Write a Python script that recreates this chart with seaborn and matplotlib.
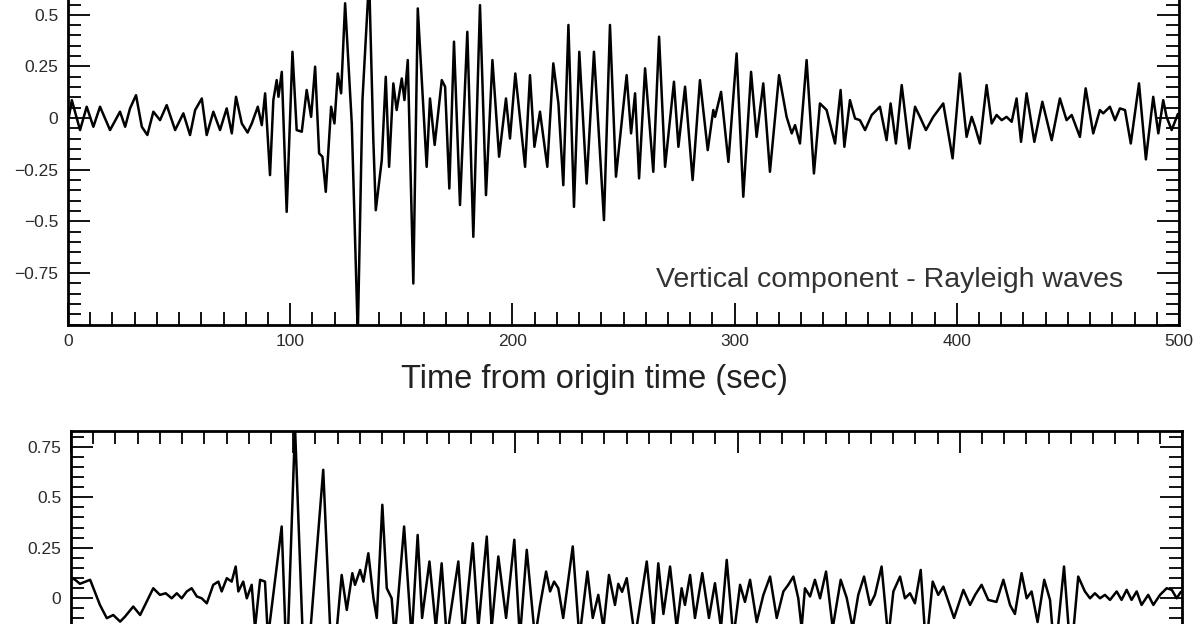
import pandas as pd
import seaborn as sns
import matplotlib.pyplot as plt
from matplotlib.ticker import MultipleLocator

# vertical component trace (time in s, amplitude) at the peaks/troughs
top_time = [0.3, 1.7, 5.4, 8.4, 11.4, 14.4, 18.9, 23.4, 25.7, 27.9, 30.6, 33.2, 35.7, 38.4, 41.4,
            44.4, 48.2, 51.9, 54.9, 57.2, 60.2, 62.4, 65.4, 68.4, 71.4, 73.7, 75.6, 78.2, 80.8,
            82.7, 85.4, 87.2, 88.7, 90.9, 92.4, 93.9, 94.7, 96.2, 98.4, 101.0, 102.9, 105.2,
            107.4, 109.4, 111.2, 113.0, 114.5, 116.0, 118.4, 119.9, 121.4, 122.9, 124.7, 127.7,
            130.4, 132.5, 135.5, 137.4, 138.5, 141.2, 143.0, 144.5, 146.4, 147.9, 150.2, 151.4,
            152.9, 155.4, 157.4, 161.4, 162.9, 165.0, 168.2, 169.7, 171.6, 173.7, 176.4, 179.7,
            182.4, 185.4, 188.1, 191.0, 194.0, 197.1, 198.9, 201.3, 205.7, 207.9, 209.9, 212.4,
            215.7, 218.4, 220.7, 222.9, 225.2, 227.7, 230.1, 233.4, 236.7, 241.2, 243.9, 246.6,
            251.4, 253.4, 255.2, 257.0, 259.7, 263.4, 266.0, 268.7, 272.7, 274.7, 277.7, 281.1,
            284.4, 287.9, 290.4, 291.2, 293.9, 297.2, 300.9, 303.9, 307.4, 309.9, 312.9, 315.9,
            320.0, 323.4, 325.7, 327.2, 329.4, 332.4, 335.7, 338.4, 341.4, 345.2, 347.7, 349.4,
            351.9, 354.2, 356.4, 358.7, 361.7, 365.4, 368.4, 370.2, 372.6, 375.2, 378.6, 381.2,
            383.4, 386.1, 389.4, 393.9, 398.1, 401.4, 404.4, 406.7, 408.2, 410.4, 413.4, 415.7,
            417.9, 420.2, 422.4, 424.7, 426.9, 428.9, 431.4, 434.9, 438.5, 442.7, 446.4, 449.4,
            451.7, 455.4, 458.0, 461.4, 464.4, 465.9, 468.9, 471.2, 473.4, 475.7, 478.3, 482.0,
            485.1, 488.4, 490.7, 492.9, 494.4, 496.7, 499.5]
top_amp = [0.0, 0.087, -0.058, 0.055, -0.042, 0.055, -0.058, 0.031, -0.042, 0.047, 0.111, -0.042,
           -0.082, 0.031, -0.010, 0.063, -0.058, 0.023, -0.082, 0.039, 0.095, -0.082, 0.031,
           -0.058, 0.047, -0.074, 0.103, -0.026, -0.070, -0.026, 0.055, -0.034, 0.120, -0.276,
           0.087, 0.184, 0.103, 0.224, -0.454, 0.321, -0.058, -0.066, 0.136, 0.006, 0.249,
           -0.171, -0.187, -0.357, 0.055, -0.026, 0.216, 0.120, 0.556, -0.026, -1.05, 0.087,
           0.68, -0.107, -0.446, -0.203, 0.200, -0.236, 0.168, 0.039, 0.192, 0.087, 0.281,
           -0.801, 0.531, -0.236, 0.095, -0.130, 0.184, 0.152, -0.341, 0.370, -0.421, 0.418,
           -0.575, 0.547, -0.373, 0.281, -0.187, 0.095, -0.099, 0.216, -0.236, 0.208, -0.139,
           0.031, -0.236, 0.265, 0.071, -0.325, 0.451, -0.430, 0.321, -0.317, 0.321, -0.494,
           0.451, -0.284, 0.208, -0.074, 0.120, -0.292, 0.241, -0.260, 0.394, -0.236, 0.176,
           -0.139, 0.152, -0.300, 0.184, -0.155, 0.039, 0.006, 0.127, -0.212, 0.313, -0.381,
           0.224, -0.091, 0.168, -0.260, 0.208, 0.006, -0.074, -0.034, -0.123, 0.281, -0.268,
           0.071, 0.039, -0.123, 0.136, -0.139, 0.087, -0.002, -0.010, -0.058, 0.015, 0.055,
           -0.107, 0.071, -0.123, 0.160, -0.147, 0.055, 0.006, -0.058, 0.006, 0.071, -0.195,
           0.216, -0.091, 0.006, -0.042, -0.123, 0.160, -0.026, 0.015, -0.010, 0.006, -0.018,
           0.095, -0.115, 0.120, -0.115, 0.079, -0.107, 0.095, -0.010, 0.015, -0.091, 0.144,
           -0.074, 0.039, 0.023, 0.055, -0.010, 0.047, 0.039, -0.123, 0.168, -0.200, 0.103,
           -0.074, 0.087, 0.006, -0.058, 0.020]

# second trace (only its upper part is visible)
bottom_time = [0.5, 1.0, 4.0, 8.6, 13.0, 16.1, 19.0, 22.1, 24.3, 28.0, 31.1, 37.0, 40.0, 42.6,
               45.3, 47.6, 49.8, 52.1, 54.3, 56.6, 58.8, 61.1, 64.0, 66.3, 67.8, 70.1, 72.3,
               74.1, 75.3, 77.5, 79.1, 81.3, 82.8, 85.1, 87.3, 88.6, 94.8, 97.1, 100.8, 105.3,
               113.5, 117.6, 121.8, 124.1, 126.6, 127.8, 130.1, 131.6, 133.8, 136.1, 137.6,
               140.1, 142.1, 144.3, 145.7, 149.9, 153.3, 156.0, 158.0, 161.3, 164.2, 166.8,
               169.1, 174.3, 176.6, 180.8, 183.3, 187.1, 189.3, 192.3, 195.8, 199.5, 202.0,
               205.1, 208.8, 211.1, 213.8, 215.6, 217.4, 219.3, 221.5, 225.8, 228.8, 232.4,
               234.8, 237.3, 239.6, 242.1, 244.8, 246.3, 248.0, 250.1, 253.8, 259.1, 262.1,
               264.3, 266.6, 269.6, 272.6, 274.8, 276.3, 278.6, 280.8, 284.1, 287.1, 289.8,
               292.5, 295.1, 298.1, 301.1, 303.3, 305.6, 308.6, 311.6, 314.6, 317.6, 320.6,
               322.8, 325.1, 327.3, 328.8, 330.3, 332.6, 334.8, 337.1, 339.8, 342.8, 346.4,
               349.1, 351.8, 354.3, 356.9, 359.6, 361.8, 364.8, 367.8, 370.1, 373.1, 375.3,
               377.6, 379.8, 382.4, 384.8, 387.8, 390.3, 392.6, 397.4, 401.6, 404.6, 406.9,
               409.8, 412.8, 416.5, 419.6, 422.6, 424.8, 427.8, 430.1, 432.3, 435.0, 438.0,
               440.6, 442.8, 446.9, 450.0, 453.3, 456.3, 458.6, 460.8, 463.1, 465.3, 467.6,
               470.6, 472.8, 475.1, 477.3, 479.6, 481.8, 484.8, 487.1, 490.1, 493.1, 495.4,
               497.6, 499.5]
bottom_amp = [0.09, 0.098, 0.07, 0.090, -0.035, -0.101, -0.085, -0.118, -0.093, -0.043, -0.085,
              0.048, 0.015, 0.023, -0.002, 0.023, -0.002, 0.032, 0.048, 0.007, -0.002, -0.027,
              0.065, 0.081, 0.032, 0.098, 0.081, 0.156, 0.032, 0.081, -0.002, 0.065, -0.15,
              0.090, 0.081, -0.2, 0.355, -0.35, 0.85, -0.5, 0.637, -0.4, 0.114, -0.06, 0.123,
              0.065, 0.139, 0.081, 0.222, -0.002, -0.1, 0.463, 0.048, -0.002, -0.2, 0.355,
              -0.2, 0.313, -0.1, 0.181, -0.15, 0.172, -0.2, 0.181, -0.2, 0.272, -0.15, 0.305,
              -0.15, 0.206, -0.1, 0.289, -0.2, 0.239, -0.2, -0.035, 0.131, 0.032, 0.081, 0.048,
              -0.1, 0.256, -0.2, 0.131, -0.1, 0.015, -0.15, 0.114, -0.035, 0.07, 0.03, 0.098,
              -0.2, 0.181, -0.15, 0.172, -0.08, 0.156, -0.15, 0.048, -0.035, 0.114, -0.1, 0.123,
              -0.1, 0.073, -0.15, 0.189, -0.2, 0.065, -0.02, 0.09, -0.12, 0.015, 0.106, -0.1,
              0.032, 0.065, 0.106, -0.002, -0.15, 0.048, 0.007, 0.09, -0.002, 0.131, -0.15,
              0.09, 0.0, -0.15, 0.015, 0.106, -0.035, 0.015, 0.156, -0.2, 0.032, 0.106, -0.002,
              0.023, -0.027, 0.139, -0.25, 0.081, 0.015, 0.056, -0.1, 0.04, -0.035, 0.015,
              0.065, -0.01, -0.02, 0.09, -0.035, -0.08, 0.123, -0.002, 0.032, -0.12, 0.09,
              -0.01, -0.3, 0.156, -0.3, 0.106, 0.032, -0.002, 0.023, -0.002, 0.015, -0.01,
              0.032, -0.01, 0.04, -0.01, 0.032, -0.035, 0.015, -0.035, 0.015, 0.048, 0.04,
              -0.002, 0.03]

x_ticks = [0, 100, 200, 300, 400, 500]
y_ticks = [-0.75, -0.5, -0.25, 0, 0.25, 0.5, 0.75]
# labels that fall inside the cropped picture only
top_y_labels = ["\u22120.75", "\u22120.5", "\u22120.25", "0", "0.25", "0.5", ""]
bottom_y_labels = ["", "", "", "0", "0.25", "0.5", "0.75"]
x_label = "Time from origin time (sec)"
panel_note = "Vertical component - Rayleigh waves"

sns.set_style("ticks")
plt.rcParams["font.family"] = ["Liberation Sans", "DejaVu Sans"]

fig = plt.figure(figsize=(12, 6.24), dpi=100)
ax1 = fig.add_axes([0.0567, 0.4798, 0.9258, 0.6619])
ax2 = fig.add_axes([0.0592, -0.2804, 0.9258, 0.5897])

top = pd.DataFrame({"time": top_time, "amp": top_amp})
bottom = pd.DataFrame({"time": bottom_time, "amp": bottom_amp})

sns.lineplot(data=top, x="time", y="amp", ax=ax1, color="black", lw=1.8,
             estimator=None, sort=False, solid_joinstyle="round")
sns.lineplot(data=bottom, x="time", y="amp", ax=ax2, color="black", lw=1.8,
             estimator=None, sort=False, solid_joinstyle="round")


def style_axes(ax, ylim, ylabels):
    ax.set_xlim(0, 500)
    ax.set_ylim(*ylim)
    ax.set_xticks(x_ticks)
    ax.set_yticks(y_ticks)
    ax.set_yticklabels(ylabels)
    ax.xaxis.set_minor_locator(MultipleLocator(10))
    ax.yaxis.set_minor_locator(MultipleLocator(0.05))
    ax.tick_params(which="both", direction="in", top=True, right=True,
                   colors="black", labelcolor="#2a2a2a", labelsize=12.5, pad=7)
    ax.tick_params(which="major", length=16, width=1.3)
    ax.tick_params(which="minor", length=9.5, width=1.3)
    for s in ax.spines.values():
        s.set_visible(True)
        s.set_linewidth(2)
        s.set_color("black")
    ax.set_xlabel("")
    ax.set_ylabel("")


style_axes(ax1, (-1, 1), top_y_labels)
style_axes(ax2, (-1, 0.83), bottom_y_labels)
ax2.tick_params(labelbottom=False)

fig.text(594 / 1200, 1 - 388 / 624, x_label, ha="center", va="baseline",
         fontsize=23.5, color="#222222")
fig.text(890 / 1200, 1 - 287 / 624, panel_note, ha="center", va="baseline",
         fontsize=20.5, color="#333333")

fig.savefig("out.png", dpi=100)
